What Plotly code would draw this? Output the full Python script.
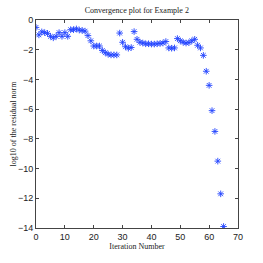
import plotly.graph_objects as go

iterations = list(range(66))
log_residual = [
    -0.5, -1.0, -0.8, -0.85, -0.9, -1.1, -1.2, -1.1, -0.85, -1.1,
    -0.85, -1.1, -0.65, -0.65, -0.6, -0.68, -0.7, -0.75, -1.05, -1.4,
    -1.75, -1.75, -1.75, -2.05, -2.2, -2.3, -2.35, -2.35, -2.35, -0.88,
    -1.5, -1.8, -1.9, -1.85, -0.78, -1.3, -1.5, -1.55, -1.6, -1.6,
    -1.62, -1.62, -1.6, -1.58, -1.55, -1.45, -1.88, -1.9, -1.88, -1.25,
    -1.4, -1.5, -1.55, -1.52, -1.4, -1.3, -1.7, -1.88, -2.38, -3.45,
    -4.4, -6.1, -7.5, -9.5, -11.7, -13.9,
]
x_ticks = [0, 10, 20, 30, 40, 50, 60, 70]
y_ticks = [0, -2, -4, -6, -8, -10, -12, -14]

fig = go.Figure(go.Scatter(
    x=iterations, y=log_residual, mode="markers",
    marker=dict(symbol="asterisk-open", size=5.5, color="#2244ff",
                line=dict(color="#2244ff", width=0.9)),
))

axis_common = dict(
    showgrid=False, zeroline=False, showline=True, mirror="ticks",
    linecolor="#444", linewidth=1, ticks="inside", ticklen=3,
    tickcolor="#444", automargin=False,
    tickfont=dict(family="Liberation Sans, Arial", size=9, color="#222"),
)
fig.update_xaxes(range=[0, 70], tickvals=x_ticks,
                 title=dict(text="Iteration Number", standoff=0,
                            font=dict(family="Liberation Serif, Times New Roman", size=8, color="#222")),
                 **axis_common)
fig.update_yaxes(range=[-14, 0], tickvals=y_ticks,
                 title=dict(text="log10 of the residual norm", standoff=0,
                            font=dict(family="Liberation Serif, Times New Roman", size=8, color="#222")),
                 **axis_common)
fig.update_layout(
    width=263, height=263,
    margin=dict(l=36, r=25, t=20, b=35),
    paper_bgcolor="white", plot_bgcolor="white",
    showlegend=False,
    title=dict(text="Convergence plot for Example 2", x=0.52, xanchor="center",
               y=0.962, yanchor="middle",
               font=dict(family="Liberation Serif, Times New Roman", size=8, color="#222")),
)
fig.write_html("out.html", config={"displayModeBar": False},
               post_script="document.body.style.margin='0';")
